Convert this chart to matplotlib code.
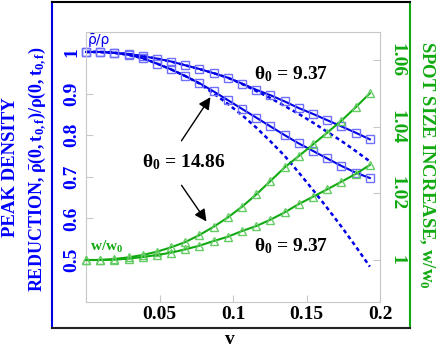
import matplotlib
matplotlib.use("Agg")
import matplotlib.pyplot as plt

# velocity grid
v = [0, 0.0097, 0.0193, 0.029, 0.0386, 0.0483, 0.0579, 0.0676, 0.0772, 0.0869, 0.0966,
     0.1062, 0.1159, 0.1255, 0.1352, 0.1448, 0.1545, 0.1641, 0.1738, 0.1834, 0.1931]

# peak density reduction, solid = fitted, dashed = model
rho_937 = [1.000, 1.000, 0.998, 0.995, 0.990, 0.984, 0.977, 0.968, 0.959, 0.949, 0.938,
           0.924, 0.909, 0.896, 0.881, 0.865, 0.851, 0.836, 0.821, 0.806, 0.790]
rho_1486 = [1.000, 1.000, 0.998, 0.993, 0.985, 0.972, 0.958, 0.942, 0.925, 0.905, 0.884,
            0.863, 0.842, 0.821, 0.800, 0.780, 0.762, 0.744, 0.726, 0.710, 0.697]
rho_937_dash = [1.000, 1.000, 0.998, 0.995, 0.990, 0.984, 0.977, 0.968, 0.959, 0.949, 0.938,
                0.923, 0.906, 0.889, 0.870, 0.851, 0.830, 0.808, 0.786, 0.762, 0.737]
rho_1486_dash = [1.000, 1.000, 0.998, 0.993, 0.985, 0.972, 0.958, 0.942, 0.924, 0.900, 0.875,
                 0.848, 0.818, 0.785, 0.750, 0.710, 0.668, 0.625, 0.580, 0.533, 0.484]

# spot size increase
w_1486 = [1.0000, 1.0000, 1.0003, 1.0008, 1.0015, 1.0025, 1.0038, 1.0054, 1.0075, 1.0100, 1.0128,
          1.0160, 1.0197, 1.0237, 1.0278, 1.0312, 1.0347, 1.0382, 1.0418, 1.0458, 1.0500]
w_937 = [1.0000, 1.0000, 1.0001, 1.0004, 1.0009, 1.0015, 1.0022, 1.0032, 1.0043, 1.0057, 1.0070,
         1.0087, 1.0102, 1.0121, 1.0143, 1.0168, 1.0190, 1.0212, 1.0235, 1.0258, 1.0285]

xticks = [0.05, 0.1, 0.15, 0.2]
xticklabels = ["0.05", "0.1", "0.15", "0.2"]
yticks = [0.5, 0.6, 0.7, 0.8, 0.9, 1.0]
yticklabels = ["0.5", "0.6", "0.7", "0.8", "0.9", "1"]
y2ticks = [1.0, 1.02, 1.04, 1.06]
y2ticklabels = ["1", "1.02", "1.04", "1.06"]

plt.rcParams["font.family"] = "Liberation Serif"
plt.rcParams["font.weight"] = "bold"
plt.rcParams["mathtext.fontset"] = "custom"
plt.rcParams["mathtext.rm"] = "Liberation Serif:bold"
plt.rcParams["mathtext.bf"] = "Liberation Serif:bold"
plt.rcParams["mathtext.it"] = "Liberation Serif:bold:italic"
plt.rcParams["mathtext.default"] = "rm"

blue = "#0000e6"
green = "#11aa11"
gray = "#c8c8c8"

fig = plt.figure(figsize=(4.36, 3.51), dpi=100)

# outer frame: black top/bottom, blue left, green right
frame = fig.add_axes([52 / 436, 23 / 351, 358 / 436, 326 / 351])
frame.set_xticks([])
frame.set_yticks([])
frame.spines["top"].set_color("black")
frame.spines["bottom"].set_color("#222222")
frame.spines["left"].set_color(blue)
frame.spines["right"].set_color(green)
for s in frame.spines.values():
    s.set_linewidth(1.5)

ax = fig.add_axes([86 / 436, 49 / 351, 294 / 436, 270 / 351])
ax2 = ax.twinx()

ax.plot(v, rho_937_dash, color=blue, lw=1.8, ls=(0, (1.6, 1.3)))
ax.plot(v, rho_1486_dash, color=blue, lw=1.8, ls=(0, (1.6, 1.3)))
ax.plot(v, rho_937, color=blue, lw=1.5, marker="s", ms=6, mfc="none", mec="#7070ff", mew=1, clip_on=False)
ax.plot(v, rho_1486, color=blue, lw=1.5, marker="s", ms=6, mfc="none", mec="#7070ff", mew=1, clip_on=False)
ax2.plot(v, w_1486, color=green, lw=1.5, marker="^", ms=6, mfc="none", mec="#66cc66", mew=1, clip_on=False)
ax2.plot(v, w_937, color=green, lw=1.5, marker="^", ms=6, mfc="none", mec="#66cc66", mew=1, clip_on=False)

ax.set_xlim(0, 0.2)
ax.set_ylim(0.399, 1.048)
ax2.set_ylim(0.9874, 1.0684)

ax.set_xticks(xticks)
ax.set_xticklabels(xticklabels)
ax.set_yticks(yticks)
ax.set_yticklabels(yticklabels)
ax2.set_yticks(y2ticks)
ax2.set_yticklabels(y2ticklabels)

for s in ax.spines.values():
    s.set_color(gray)
for s in ax2.spines.values():
    s.set_visible(False)
ax.tick_params(axis="x", direction="in", length=5, color=gray, labelsize=14, pad=3)
ax.tick_params(axis="y", direction="in", length=5, color=gray, labelsize=14, labelcolor="blue",
               labelrotation=90, pad=4)
ax2.tick_params(axis="y", direction="in", length=5, color=gray, labelsize=14, labelcolor=green,
                labelrotation=-90, pad=6)
for t in ax.get_yticklabels():
    t.set_va("center")
for t in ax2.get_yticklabels():
    t.set_va("center")

# annotations
ax.text(0.001, 1.029, "ρ\u0304/ρ", color=blue, fontsize=10, fontweight="normal",
        family="DejaVu Sans", va="center", ha="left")
ax.text(0.003, 0.531, r"w/w$_{0}$", color=green, fontsize=11, va="center", ha="left")
ax.text(0.1395, 0.947, r"θ$_{0}$ = 9.37", fontsize=14, ha="center", va="center")
ax.text(0.1395, 0.534, r"θ$_{0}$ = 9.37", fontsize=14, ha="center", va="center")
ax.text(0.0667, 0.7356, r"θ$_{0}$ = 14.86", fontsize=14, ha="center", va="center")
ax.annotate("", xy=(0.0857, 0.897), xytext=(0.0639, 0.781),
            arrowprops=dict(arrowstyle="-|>", color="black", lw=1, mutation_scale=18))
ax.annotate("", xy=(0.083, 0.587), xytext=(0.0639, 0.685),
            arrowprops=dict(arrowstyle="-|>", color="black", lw=1, mutation_scale=18))

fig.text(0.023, 0.524, "PEAK DENSITY", rotation=90, color="blue", fontsize=13.5,
         ha="center", va="center")
fig.text(0.087, 0.519, r"REDUCTION, $\bar{ρ}(0,t_{0,f})/ρ(0,t_{0,f})$", rotation=90,
         color="blue", fontsize=13, ha="center", va="center")
fig.text(0.979, 0.53, r"SPOT SIZE INCREASE, w/w$_{0}$", rotation=-90, color=green,
         fontsize=13.5, ha="center", va="center")
fig.text(0.5275, 0.032, "v", fontsize=14, ha="center", va="center")

fig.savefig("out.png", dpi=100)
